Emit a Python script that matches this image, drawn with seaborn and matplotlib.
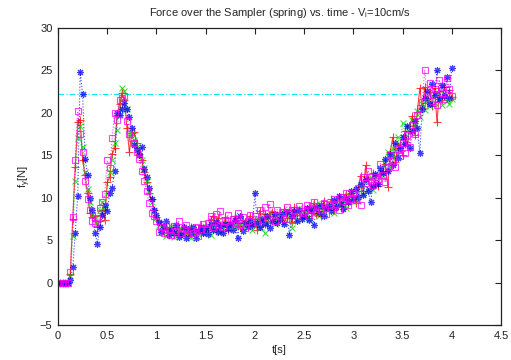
import numpy as np
import pandas as pd
import matplotlib
matplotlib.use("Agg")
import matplotlib.pyplot as plt
import seaborn as sns

# time grid (s), step 0.025 from 0 to 4.0
t = [round(i * 0.025, 3) for i in range(161)]

red = [
    0, 0, 0, 0, 0, 1.0, 7.5, 13.6, 18.9, 19.2,
    14.4, 12.7, 10.5, 8.2, 7.7, 7.8, 6.5, 7.3, 8.5, 7.4,
    11.8, 12.4, 15.2, 15.8, 19.7, 21.0, 22.3, 21.5, 18.2, 15.4,
    17.6, 17.7, 16.5, 15.2, 14.4, 13.0, 11.8, 10.5, 9.8, 8.6,
    7.7, 7.2, 6.9, 5.9, 6.4, 6.0, 6.5, 5.6, 6.1, 6.3,
    5.8, 6.4, 6.0, 5.5, 6.6, 6.1, 5.7, 6.3, 6.8, 6.0,
    6.6, 6.2, 7.4, 7.9, 6.3, 7.6, 6.8, 6.5, 7.7, 6.2,
    7.1, 6.8, 7.9, 7.0, 6.6, 7.4, 7.1, 6.9, 7.8, 6.7,
    7.3, 6.2, 8.4, 7.0, 8.1, 6.8, 7.9, 8.3, 7.2, 8.0,
    8.2, 7.4, 8.7, 7.6, 8.6, 7.1, 8.9, 8.0, 8.4, 7.6,
    8.5, 7.9, 9.0, 8.2, 9.4, 8.1, 8.9, 7.8, 9.6, 8.7,
    9.1, 9.8, 8.6, 9.4, 10.1, 9.0, 9.9, 10.4, 9.3, 10.6,
    10.2, 9.4, 11.3, 12.6, 10.8, 13.8, 12.2, 11.1, 12.9, 11.6,
    11.4, 12.8, 13.2, 14.0, 11.3, 15.4, 17.1, 14.2, 15.8, 16.3,
    15.0, 17.9, 16.2, 18.5, 19.6, 17.4, 20.1, 22.9, 20.6, 23.0,
    21.2, 22.4, 20.8, 22.9, 18.9, 22.6, 21.5, 23.1, 21.8, 22.7,
    21.9,
]

green = [
    0, 0, 0, 0, 0, 0.8, 5.5, 12.0, 17.0, 18.5,
    16.0, 13.0, 11.0, 9.5, 8.0, 7.5, 7.0, 8.5, 9.5, 8.8,
    10.5, 13.0, 14.5, 16.5, 18.0, 20.5, 22.9, 22.6, 20.5, 17.5,
    17.5, 16.8, 16.0, 15.6, 14.5, 13.5, 12.0, 10.8, 9.5, 8.4,
    7.6, 6.8, 6.2, 6.4, 5.5, 6.0, 6.7, 5.4, 6.1, 5.9,
    6.3, 5.6, 6.2, 5.9, 5.2, 6.4, 6.0, 5.7, 6.5, 5.8,
    6.1, 6.7, 5.6, 6.9, 6.3, 7.2, 6.0, 6.6, 7.0, 6.4,
    6.8, 7.3, 6.5, 7.7, 6.9, 6.4, 7.2, 6.8, 7.5, 6.2,
    7.0, 7.6, 6.4, 7.4, 5.8, 7.8, 7.1, 8.0, 6.9, 7.5,
    7.7, 8.4, 7.0, 8.6, 7.8, 6.4, 8.1, 7.4, 8.8, 7.9,
    8.0, 8.6, 7.5, 9.0, 8.4, 9.3, 7.8, 8.9, 8.3, 9.1,
    8.7, 9.3, 8.2, 9.6, 9.0, 10.0, 9.4, 8.8, 10.3, 9.6,
    10.0, 10.8, 9.6, 11.5, 10.4, 11.8, 11.0, 12.4, 10.9, 12.6,
    12.0, 13.4, 12.6, 14.2, 15.4, 13.6, 15.8, 14.8, 17.2, 16.2,
    18.8, 17.0, 18.5, 17.8, 19.2, 18.4, 20.2, 19.5, 21.0, 20.3,
    21.5, 20.8, 22.0, 21.2, 22.4, 21.6, 20.9, 22.2, 21.4, 21.0,
    21.6,
]

blue = [
    0, 0, 0, 0, 0, 0.3, 1.8, 5.9, 10.2, 24.8,
    22.2, 14.6, 12.7, 10.0, 8.5, 5.9, 4.6, 6.5, 8.0, 9.2,
    8.4, 10.5, 11.2, 13.2, 20.0, 19.8, 20.5, 21.2, 20.4, 19.5,
    18.2, 16.2, 15.6, 15.0, 16.0, 13.4, 12.4, 11.2, 9.8, 8.6,
    8.0, 7.1, 6.0, 6.5, 7.2, 5.6, 6.3, 5.9, 6.8, 5.4,
    5.7, 6.5, 5.3, 6.3, 5.9, 6.6, 5.2, 6.1, 6.4, 5.8,
    6.4, 5.7, 6.9, 6.2, 7.1, 6.0, 6.7, 5.8, 6.9, 6.3,
    6.9, 6.2, 7.4, 5.2, 7.8, 6.1, 7.0, 6.5, 7.2, 6.8,
    10.5, 7.0, 6.6, 7.5, 6.9, 7.9, 6.4, 7.3, 8.1, 7.0,
    7.5, 8.1, 6.9, 8.3, 5.6, 7.8, 8.4, 7.2, 8.6, 7.5,
    7.9, 8.8, 7.4, 8.5, 6.8, 8.9, 8.2, 9.2, 7.9, 8.8,
    9.0, 8.4, 9.7, 8.9, 10.2, 9.3, 8.7, 10.0, 9.5, 10.8,
    9.8, 11.0, 10.1, 11.6, 10.3, 12.2, 10.8, 9.5, 11.4, 12.8,
    11.6, 13.5, 12.9, 14.6, 13.2, 15.1, 13.9, 16.5, 14.7, 15.8,
    17.2, 16.3, 18.5, 15.8, 17.9, 19.0, 18.2, 15.3, 20.4, 21.8,
    22.6, 21.0, 23.4, 22.1, 25.0, 21.6, 23.3, 22.0, 24.2, 21.8,
    25.3,
]

magenta = [
    0, 0, 0, 0, 0, 1.2, 7.7, 14.4, 20.2, 17.5,
    15.4, 12.0, 9.9, 8.6, 7.2, 7.0, 7.6, 8.8, 9.5, 10.4,
    14.4, 13.5, 17.0, 20.0, 19.2, 21.5, 21.8, 22.0, 19.0, 17.5,
    17.0, 16.4, 15.4, 14.6, 13.2, 12.0, 10.8, 9.4, 8.2, 7.8,
    7.2, 6.0, 6.6, 5.8, 6.9, 6.2, 5.6, 6.7, 6.1, 7.3,
    5.9, 6.3, 6.8, 5.7, 6.2, 5.9, 6.6, 5.5, 6.3, 6.9,
    6.2, 7.0, 7.8, 6.6, 8.1, 6.8, 8.4, 6.5, 7.3, 8.0,
    6.7, 7.5, 7.0, 8.2, 6.8, 7.7, 6.4, 7.3, 8.0, 6.9,
    7.8, 7.1, 8.5, 7.4, 8.9, 7.6, 9.3, 8.1, 7.2, 8.6,
    7.9, 8.3, 7.5, 8.9, 8.1, 7.4, 8.5, 7.8, 9.0, 8.2,
    8.4, 9.1, 7.9, 8.7, 9.5, 8.3, 9.0, 8.6, 9.4, 8.1,
    9.2, 8.8, 9.9, 9.3, 8.6, 10.1, 9.6, 10.5, 9.1, 9.8,
    10.6, 10.0, 11.2, 9.2, 12.5, 11.7, 13.2, 12.0, 11.5, 12.4,
    12.2, 14.0, 12.7, 11.8, 13.6, 15.0, 14.4, 13.6, 15.7, 14.9,
    16.4, 15.3, 17.4, 16.0, 18.6, 17.5, 19.8, 20.6, 21.3, 25.1,
    22.0, 23.5, 21.4, 22.8, 20.9, 23.9, 22.3, 21.6, 24.1, 22.8,
    22.0,
]

# reference level line
ref_level = 22.2
ref_x = [0.0, 3.65]

x_ticks = [0, 0.5, 1, 1.5, 2, 2.5, 3, 3.5, 4, 4.5]
x_labels = ["0", "0.5", "1", "1.5", "2", "2.5", "3", "3.5", "4", "4.5"]
y_ticks = [-5, 0, 5, 10, 15, 20, 25, 30]

sns.set_theme(style="white")
plt.rcParams["font.family"] = ["Liberation Sans", "DejaVu Sans"]

fig = plt.figure(figsize=(5.11, 3.60), dpi=100)
ax = fig.add_axes([58 / 511, 35 / 360, 443 / 511, 297 / 360])

ax.hlines(ref_level, ref_x[0], ref_x[1], colors="#00e8f0", linestyles=(0, (5, 2, 1, 2)),
          linewidth=0.8, zorder=1)

series = [
    (red, "#ff0000", "+", "-", 6, "full"),
    (green, "#00dd00", "x", ":", 5, "full"),
    (blue, "#0000ff", (8, 2, 0), ":", 5, "full"),
    (magenta, "#ff00ff", "s", ":", 5, "none"),
]
for vals, col, mk, ls, ms, fill in series:
    df = pd.DataFrame({"t": t, "f": vals})
    sns.lineplot(data=df, x="t", y="f", ax=ax, color=col, linestyle=ls, linewidth=0.8,
                 marker=mk, markersize=ms, markeredgewidth=0.8, markeredgecolor=col,
                 markerfacecolor=("none" if fill == "none" else col), alpha=0.75,
                 estimator=None, sort=False)

ax.set_xlim(0, 4.5)
ax.set_ylim(-5, 30)
ax.set_xticks(x_ticks)
ax.set_xticklabels(x_labels)
ax.set_yticks(y_ticks)
ax.tick_params(direction="in", top=True, right=True, length=4, width=0.8,
               labelsize=8, pad=4, colors="#222222")
for sp in ax.spines.values():
    sp.set_color("#222222")
    sp.set_linewidth(0.9)
    sp.set_visible(True)

ax.set_xlabel("t[s]", fontsize=8, labelpad=3)
ax.set_ylabel(r"f$_\mathregular{y}$[N]", fontsize=8)
ax.yaxis.set_label_coords(-0.056, 0.5)
ax.set_title(r"Force over the Sampler (spring) vs. time - V$_\mathregular{i}$=10cm/s",
             fontsize=8, pad=9)

fig.savefig("out.png", dpi=100)
